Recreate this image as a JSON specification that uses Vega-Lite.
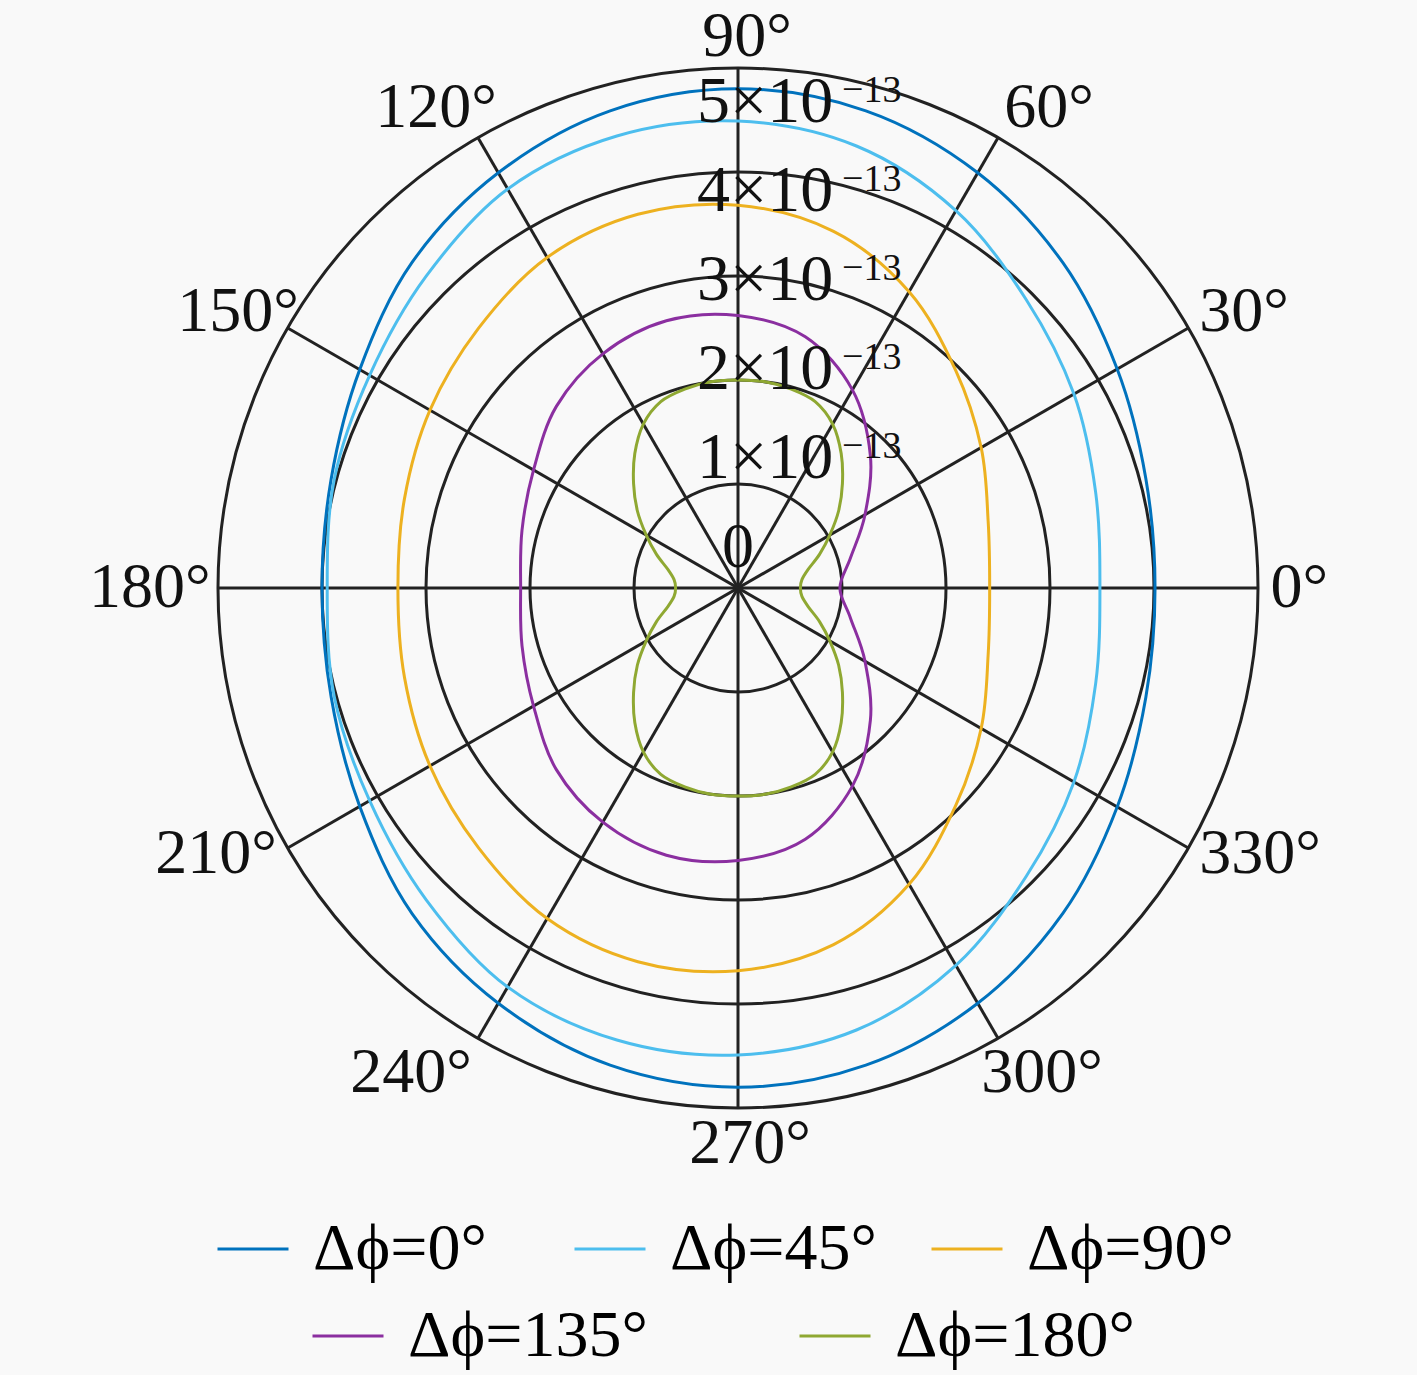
{
  "$schema": "https://vega.github.io/schema/vega-lite/v6.json",
  "width": 1417,
  "height": 1375,
  "autosize": {"type": "fit", "contains": "padding"},
  "padding": 0,
  "background": "#f9f9f9",
  "config": {
    "view": {"stroke": null},
    "font": "Liberation Serif"
  },
  "datasets": {
    "curves": [
      {"series": "Δϕ=0°", "theta": 0, "r": 4.01}, {"series": "Δϕ=0°", "theta": 15, "r": 4.06}, {"series": "Δϕ=0°", "theta": 30, "r": 4.21}, {"series": "Δϕ=0°", "theta": 45, "r": 4.42},
      {"series": "Δϕ=0°", "theta": 60, "r": 4.61}, {"series": "Δϕ=0°", "theta": 75, "r": 4.75}, {"series": "Δϕ=0°", "theta": 90, "r": 4.80}, {"series": "Δϕ=0°", "theta": 105, "r": 4.75},
      {"series": "Δϕ=0°", "theta": 120, "r": 4.61}, {"series": "Δϕ=0°", "theta": 135, "r": 4.43}, {"series": "Δϕ=0°", "theta": 150, "r": 4.20}, {"series": "Δϕ=0°", "theta": 165, "r": 4.05},
      {"series": "Δϕ=0°", "theta": 180, "r": 4.00}, {"series": "Δϕ=0°", "theta": 195, "r": 4.05}, {"series": "Δϕ=0°", "theta": 210, "r": 4.20}, {"series": "Δϕ=0°", "theta": 225, "r": 4.43},
      {"series": "Δϕ=0°", "theta": 240, "r": 4.61}, {"series": "Δϕ=0°", "theta": 255, "r": 4.75}, {"series": "Δϕ=0°", "theta": 270, "r": 4.80}, {"series": "Δϕ=0°", "theta": 285, "r": 4.75},
      {"series": "Δϕ=0°", "theta": 300, "r": 4.61}, {"series": "Δϕ=0°", "theta": 315, "r": 4.42}, {"series": "Δϕ=0°", "theta": 330, "r": 4.21}, {"series": "Δϕ=0°", "theta": 345, "r": 4.06},

      {"series": "Δϕ=45°", "theta": 0, "r": 3.48}, {"series": "Δϕ=45°", "theta": 15, "r": 3.56}, {"series": "Δϕ=45°", "theta": 30, "r": 3.73}, {"series": "Δϕ=45°", "theta": 45, "r": 3.92},
      {"series": "Δϕ=45°", "theta": 60, "r": 4.19}, {"series": "Δϕ=45°", "theta": 75, "r": 4.40}, {"series": "Δϕ=45°", "theta": 90, "r": 4.49}, {"series": "Δϕ=45°", "theta": 105, "r": 4.50},
      {"series": "Δϕ=45°", "theta": 120, "r": 4.43}, {"series": "Δϕ=45°", "theta": 135, "r": 4.24}, {"series": "Δϕ=45°", "theta": 150, "r": 4.09}, {"series": "Δϕ=45°", "theta": 165, "r": 4.02},
      {"series": "Δϕ=45°", "theta": 180, "r": 3.95}, {"series": "Δϕ=45°", "theta": 195, "r": 4.02}, {"series": "Δϕ=45°", "theta": 210, "r": 4.09}, {"series": "Δϕ=45°", "theta": 225, "r": 4.24},
      {"series": "Δϕ=45°", "theta": 240, "r": 4.43}, {"series": "Δϕ=45°", "theta": 255, "r": 4.50}, {"series": "Δϕ=45°", "theta": 270, "r": 4.49}, {"series": "Δϕ=45°", "theta": 285, "r": 4.40},
      {"series": "Δϕ=45°", "theta": 300, "r": 4.19}, {"series": "Δϕ=45°", "theta": 315, "r": 3.92}, {"series": "Δϕ=45°", "theta": 330, "r": 3.73}, {"series": "Δϕ=45°", "theta": 345, "r": 3.56},

      {"series": "Δϕ=90°", "theta": 0, "r": 2.42}, {"series": "Δϕ=90°", "theta": 15, "r": 2.49}, {"series": "Δϕ=90°", "theta": 30, "r": 2.70}, {"series": "Δϕ=90°", "theta": 45, "r": 2.96},
      {"series": "Δϕ=90°", "theta": 60, "r": 3.29}, {"series": "Δϕ=90°", "theta": 75, "r": 3.55}, {"series": "Δϕ=90°", "theta": 90, "r": 3.68}, {"series": "Δϕ=90°", "theta": 105, "r": 3.72},
      {"series": "Δϕ=90°", "theta": 120, "r": 3.67}, {"series": "Δϕ=90°", "theta": 135, "r": 3.53}, {"series": "Δϕ=90°", "theta": 150, "r": 3.42}, {"series": "Δϕ=90°", "theta": 165, "r": 3.32},
      {"series": "Δϕ=90°", "theta": 180, "r": 3.27}, {"series": "Δϕ=90°", "theta": 195, "r": 3.32}, {"series": "Δϕ=90°", "theta": 210, "r": 3.42}, {"series": "Δϕ=90°", "theta": 225, "r": 3.53},
      {"series": "Δϕ=90°", "theta": 240, "r": 3.67}, {"series": "Δϕ=90°", "theta": 255, "r": 3.72}, {"series": "Δϕ=90°", "theta": 270, "r": 3.68}, {"series": "Δϕ=90°", "theta": 285, "r": 3.55},
      {"series": "Δϕ=90°", "theta": 300, "r": 3.29}, {"series": "Δϕ=90°", "theta": 315, "r": 2.96}, {"series": "Δϕ=90°", "theta": 330, "r": 2.70}, {"series": "Δϕ=90°", "theta": 345, "r": 2.49},

      {"series": "Δϕ=135°", "theta": 0, "r": 0.98}, {"series": "Δϕ=135°", "theta": 15, "r": 1.12}, {"series": "Δϕ=135°", "theta": 30, "r": 1.41}, {"series": "Δϕ=135°", "theta": 45, "r": 1.80},
      {"series": "Δϕ=135°", "theta": 60, "r": 2.20}, {"series": "Δϕ=135°", "theta": 75, "r": 2.50}, {"series": "Δϕ=135°", "theta": 90, "r": 2.62}, {"series": "Δϕ=135°", "theta": 105, "r": 2.66},
      {"series": "Δϕ=135°", "theta": 120, "r": 2.60}, {"series": "Δϕ=135°", "theta": 135, "r": 2.47}, {"series": "Δϕ=135°", "theta": 150, "r": 2.27}, {"series": "Δϕ=135°", "theta": 165, "r": 2.15},
      {"series": "Δϕ=135°", "theta": 180, "r": 2.09}, {"series": "Δϕ=135°", "theta": 195, "r": 2.15}, {"series": "Δϕ=135°", "theta": 210, "r": 2.27}, {"series": "Δϕ=135°", "theta": 225, "r": 2.47},
      {"series": "Δϕ=135°", "theta": 240, "r": 2.60}, {"series": "Δϕ=135°", "theta": 255, "r": 2.66}, {"series": "Δϕ=135°", "theta": 270, "r": 2.62}, {"series": "Δϕ=135°", "theta": 285, "r": 2.50},
      {"series": "Δϕ=135°", "theta": 300, "r": 2.20}, {"series": "Δϕ=135°", "theta": 315, "r": 1.80}, {"series": "Δϕ=135°", "theta": 330, "r": 1.41}, {"series": "Δϕ=135°", "theta": 345, "r": 1.12},

      {"series": "Δϕ=180°", "theta": 0, "r": 0.60}, {"series": "Δϕ=180°", "theta": 7.5, "r": 0.62}, {"series": "Δϕ=180°", "theta": 15, "r": 0.70}, {"series": "Δϕ=180°", "theta": 22.5, "r": 0.85},
      {"series": "Δϕ=180°", "theta": 30, "r": 1.02}, {"series": "Δϕ=180°", "theta": 37.5, "r": 1.22}, {"series": "Δϕ=180°", "theta": 45, "r": 1.42}, {"series": "Δϕ=180°", "theta": 52.5, "r": 1.63},
      {"series": "Δϕ=180°", "theta": 60, "r": 1.82}, {"series": "Δϕ=180°", "theta": 67.5, "r": 1.94}, {"series": "Δϕ=180°", "theta": 75, "r": 1.98}, {"series": "Δϕ=180°", "theta": 82.5, "r": 2.00},
      {"series": "Δϕ=180°", "theta": 90, "r": 2.00}, {"series": "Δϕ=180°", "theta": 97.5, "r": 2.00}, {"series": "Δϕ=180°", "theta": 105, "r": 1.98}, {"series": "Δϕ=180°", "theta": 112.5, "r": 1.94},
      {"series": "Δϕ=180°", "theta": 120, "r": 1.82}, {"series": "Δϕ=180°", "theta": 127.5, "r": 1.63}, {"series": "Δϕ=180°", "theta": 135, "r": 1.42}, {"series": "Δϕ=180°", "theta": 142.5, "r": 1.22},
      {"series": "Δϕ=180°", "theta": 150, "r": 1.02}, {"series": "Δϕ=180°", "theta": 157.5, "r": 0.85}, {"series": "Δϕ=180°", "theta": 165, "r": 0.70}, {"series": "Δϕ=180°", "theta": 172.5, "r": 0.62},
      {"series": "Δϕ=180°", "theta": 180, "r": 0.60}, {"series": "Δϕ=180°", "theta": 187.5, "r": 0.62}, {"series": "Δϕ=180°", "theta": 195, "r": 0.70}, {"series": "Δϕ=180°", "theta": 202.5, "r": 0.85},
      {"series": "Δϕ=180°", "theta": 210, "r": 1.02}, {"series": "Δϕ=180°", "theta": 217.5, "r": 1.22}, {"series": "Δϕ=180°", "theta": 225, "r": 1.42}, {"series": "Δϕ=180°", "theta": 232.5, "r": 1.63},
      {"series": "Δϕ=180°", "theta": 240, "r": 1.82}, {"series": "Δϕ=180°", "theta": 247.5, "r": 1.94}, {"series": "Δϕ=180°", "theta": 255, "r": 1.98}, {"series": "Δϕ=180°", "theta": 262.5, "r": 2.00},
      {"series": "Δϕ=180°", "theta": 270, "r": 2.00}, {"series": "Δϕ=180°", "theta": 277.5, "r": 2.00}, {"series": "Δϕ=180°", "theta": 285, "r": 1.98}, {"series": "Δϕ=180°", "theta": 292.5, "r": 1.94},
      {"series": "Δϕ=180°", "theta": 300, "r": 1.82}, {"series": "Δϕ=180°", "theta": 307.5, "r": 1.63}, {"series": "Δϕ=180°", "theta": 315, "r": 1.42}, {"series": "Δϕ=180°", "theta": 322.5, "r": 1.22},
      {"series": "Δϕ=180°", "theta": 330, "r": 1.02}, {"series": "Δϕ=180°", "theta": 337.5, "r": 0.85}, {"series": "Δϕ=180°", "theta": 345, "r": 0.70}, {"series": "Δϕ=180°", "theta": 352.5, "r": 0.62}
    ],
    "rlabels": [
      {"r": 0, "label": "0"},
      {"r": 1, "label": "1×10"},
      {"r": 2, "label": "2×10"},
      {"r": 3, "label": "3×10"},
      {"r": 4, "label": "4×10"},
      {"r": 5, "label": "5×10"}
    ]
  },
  "encoding": {
    "x": {"field": "px", "type": "quantitative", "scale": {"domain": [-7.09615, 6.52885], "nice": false, "zero": false}, "axis": null},
    "y": {"field": "py", "type": "quantitative", "scale": {"domain": [-7.56731, 5.65385], "nice": false, "zero": false}, "axis": null}
  },
  "layer": [
    {
      "data": {"values": [{"ring": 1}, {"ring": 2}, {"ring": 3}, {"ring": 4}, {"ring": 5}]},
      "transform": [{"calculate": "0", "as": "px"}, {"calculate": "0", "as": "py"}],
      "mark": {"type": "point", "shape": "circle", "filled": false, "stroke": "#222222", "strokeWidth": 3, "opacity": 1},
      "encoding": {
        "size": {"field": "ring", "type": "quantitative", "scale": {"type": "pow", "exponent": 2, "domain": [0, 5], "range": [0, 1081600]}, "legend": null}
      }
    },
    {
      "data": {"values": [{"angle": 0}, {"angle": 30}, {"angle": 60}, {"angle": 90}, {"angle": 120}, {"angle": 150}]},
      "transform": [
        {"calculate": "5 * cos(datum.angle * PI / 180)", "as": "px"},
        {"calculate": "5 * sin(datum.angle * PI / 180)", "as": "py"},
        {"calculate": "-datum.px", "as": "px2"},
        {"calculate": "-datum.py", "as": "py2"}
      ],
      "mark": {"type": "rule", "stroke": "#222222", "strokeWidth": 3},
      "encoding": {
        "x2": {"field": "px2"},
        "y2": {"field": "py2"}
      }
    },
    {
      "data": {"name": "curves"},
      "transform": [
        {"filter": {"field": "series", "oneOf": ["Δϕ=0°", "Δϕ=45°", "Δϕ=90°"]}},
        {"calculate": "datum.r * cos(datum.theta * PI / 180)", "as": "px"},
        {"calculate": "datum.r * sin(datum.theta * PI / 180)", "as": "py"}
      ],
      "mark": {"type": "line", "interpolate": "cardinal-closed", "strokeWidth": 3},
      "encoding": {
        "order": {"field": "theta", "type": "quantitative"},
        "color": {
          "field": "series", "type": "nominal",
          "scale": {"domain": ["Δϕ=0°", "Δϕ=45°", "Δϕ=90°"], "range": ["#0072bd", "#4dbeee", "#edb120"]},
          "legend": {
            "orient": "none", "legendX": 216, "legendY": 1212, "direction": "horizontal", "title": null,
            "symbolType": "stroke", "symbolSize": 5041, "symbolStrokeWidth": 3,
            "labelFont": "Liberation Serif", "labelFontSize": 66, "labelColor": "#000000", "labelOffset": 23, "labelLimit": 600,
            "columnPadding": 48, "gridAlign": "all", "padding": 0
          }
        }
      }
    },
    {
      "data": {"name": "curves"},
      "transform": [
        {"filter": {"field": "series", "oneOf": ["Δϕ=135°", "Δϕ=180°"]}},
        {"calculate": "datum.r * cos(datum.theta * PI / 180)", "as": "px"},
        {"calculate": "datum.r * sin(datum.theta * PI / 180)", "as": "py"}
      ],
      "mark": {"type": "line", "interpolate": "cardinal-closed", "strokeWidth": 3},
      "encoding": {
        "order": {"field": "theta", "type": "quantitative"},
        "color": {
          "field": "series", "type": "nominal",
          "scale": {"domain": ["Δϕ=135°", "Δϕ=180°"], "range": ["#8b2fa0", "#8fa832"]},
          "legend": {
            "orient": "none", "legendX": 311, "legendY": 1299, "direction": "horizontal", "title": null,
            "symbolType": "stroke", "symbolSize": 5041, "symbolStrokeWidth": 3,
            "labelFont": "Liberation Serif", "labelFontSize": 66, "labelColor": "#000000", "labelOffset": 23, "labelLimit": 600,
            "columnPadding": 145, "gridAlign": "all", "padding": 0
          }
        }
      }
    },
    {
      "data": {"values": [{"angle": 0}, {"angle": 30}, {"angle": 60}, {"angle": 90}, {"angle": 120}, {"angle": 150}, {"angle": 180}, {"angle": 210}, {"angle": 240}, {"angle": 270}, {"angle": 300}, {"angle": 330}]},
      "transform": [
        {"calculate": "5.12 * cos(datum.angle * PI / 180)", "as": "px"},
        {"calculate": "5.12 * sin(datum.angle * PI / 180)", "as": "py"},
        {"calculate": "datum.angle + '°'", "as": "label"}
      ],
      "mark": {
        "type": "text", "font": "Liberation Serif", "fontSize": 64, "color": "#111111",
        "align": {"expr": "datum.angle == 90 || datum.angle == 270 ? 'center' : (datum.angle < 90 || datum.angle > 270 ? 'left' : 'right')"},
        "baseline": {"expr": "datum.angle >= 60 && datum.angle <= 120 ? 'alphabetic' : (datum.angle >= 240 && datum.angle <= 300 ? 'top' : 'middle')"},
        "dx": {"expr": "datum.angle == 90 ? 9 : datum.angle == 270 ? 12 : datum.angle == 120 ? 25 : datum.angle == 150 ? 22 : datum.angle == 180 ? 5 : datum.angle == 300 ? -23 : 0"},
        "dy": {"expr": "datum.angle == 30 || datum.angle == 150 ? -10 : (datum.angle >= 240 && datum.angle <= 300 ? -8 : 0)"}
      },
      "encoding": {"text": {"field": "label"}}
    },
    {
      "data": {"name": "rlabels"},
      "transform": [{"filter": "datum.r == 0"}, {"calculate": "0", "as": "px"}],
      "mark": {"type": "text", "font": "Liberation Serif", "fontSize": 64, "color": "#111111", "align": "center", "baseline": "alphabetic"},
      "encoding": {
        "y": {"field": "r", "type": "quantitative", "scale": {"domain": [-9.0787, 6.3708], "nice": false, "zero": false}, "axis": null},
        "text": {"field": "label"}
      }
    },
    {
      "data": {"name": "rlabels"},
      "transform": [{"filter": "datum.r > 0"}, {"calculate": "0", "as": "px"}],
      "mark": {"type": "text", "font": "Liberation Serif", "fontSize": 66, "color": "#111111", "align": "left", "baseline": "alphabetic", "dx": -41},
      "encoding": {
        "y": {"field": "r", "type": "quantitative", "scale": {"domain": [-9.0787, 6.3708], "nice": false, "zero": false}, "axis": null},
        "text": {"field": "label"}
      }
    },
    {
      "data": {"name": "rlabels"},
      "transform": [{"filter": "datum.r > 0"}, {"calculate": "0", "as": "px"}],
      "mark": {"type": "text", "font": "Liberation Serif", "fontSize": 38, "color": "#111111", "align": "left", "baseline": "alphabetic", "dx": 104, "dy": -20, "text": "−13"},
      "encoding": {
        "y": {"field": "r", "type": "quantitative", "scale": {"domain": [-9.0787, 6.3708], "nice": false, "zero": false}, "axis": null}
      }
    }
  ],
  "resolve": {"scale": {"y": "independent", "color": "independent"}}
}
